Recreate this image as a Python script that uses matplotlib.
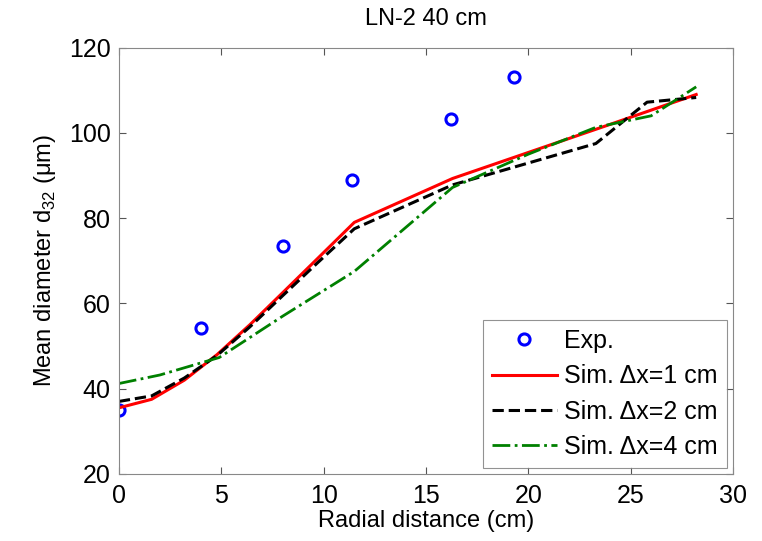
import matplotlib
matplotlib.use('Agg')
import matplotlib.pyplot as plt

plt.rcParams['font.family'] = ['Liberation Sans', 'DejaVu Sans']

# experimental points
exp_x = [0, 4.0, 8.0, 11.4, 16.2, 19.3]
exp_d = [35.0, 54.3, 73.5, 89.0, 103.3, 113.0]

# simulations
sim1_x = [0, 1.6, 3.2, 4.8, 6.4, 8.0, 9.7, 11.5, 16.3, 24.0, 28.2]
sim1_d = [35.5, 37.5, 42.0, 48.0, 55.0, 62.5, 70.5, 79.0, 89.3, 102.0, 109.0]

sim2_x = [0, 1.6, 3.2, 4.8, 6.4, 8.0, 9.7, 11.5, 16.3, 23.3, 25.8, 28.2]
sim2_d = [37.0, 38.3, 42.5, 47.8, 54.5, 61.8, 69.5, 77.5, 87.8, 97.5, 107.2, 108.3]

sim4_x = [0, 2.0, 4.9, 8.0, 11.5, 16.3, 20.0, 23.3, 26.0, 28.2]
sim4_d = [41.2, 43.2, 47.3, 57.0, 67.5, 87.2, 95.0, 101.3, 104.0, 110.8]

fig = plt.figure(figsize=(7.62, 5.41), dpi=100)
ax = fig.add_axes([0.156, 0.124, 0.806, 0.788])

ax.plot(exp_x, exp_d, 'o', color='#0000ff', mfc='none', mew=2.2, ms=8, label='Exp.')
ax.plot(sim1_x, sim1_d, '-', color='#ff0000', lw=2.2, label='Sim. \u0394x=1 cm')
ax.plot(sim2_x, sim2_d, '--', color='black', lw=2.2, label='Sim. \u0394x=2 cm')
ax.plot(sim4_x, sim4_d, '-.', color='#008000', lw=2, label='Sim. \u0394x=4 cm')

ax.set_xlim(0, 30)
ax.set_ylim(20, 120)
ax.set_xticks(range(0, 31, 5))
ax.set_yticks(range(20, 121, 20))
ax.tick_params(direction='in', top=True, right=True, labelsize=18, length=5,
               color='#555555')
ax.tick_params(axis='x', pad=7)
ax.tick_params(axis='y', pad=6)
for s in ax.spines.values():
    s.set_color('#888888')

ax.set_title('LN-2 40 cm', fontsize=17, pad=16)
ax.set_xlabel('Radial distance (cm)', fontsize=17, labelpad=2)
ax.set_ylabel('Mean diameter d$_{\\mathregular{32}}$ (\u03bcm)', fontsize=17, labelpad=8)

leg = ax.legend(loc='lower right', fontsize=18, fancybox=False, edgecolor='#777777',
                borderaxespad=0.25, handlelength=2.6, labelspacing=0.45,
                handletextpad=0.3, borderpad=0.35)
leg.get_frame().set_linewidth(0.8)

fig.savefig('out.png', dpi=100)
